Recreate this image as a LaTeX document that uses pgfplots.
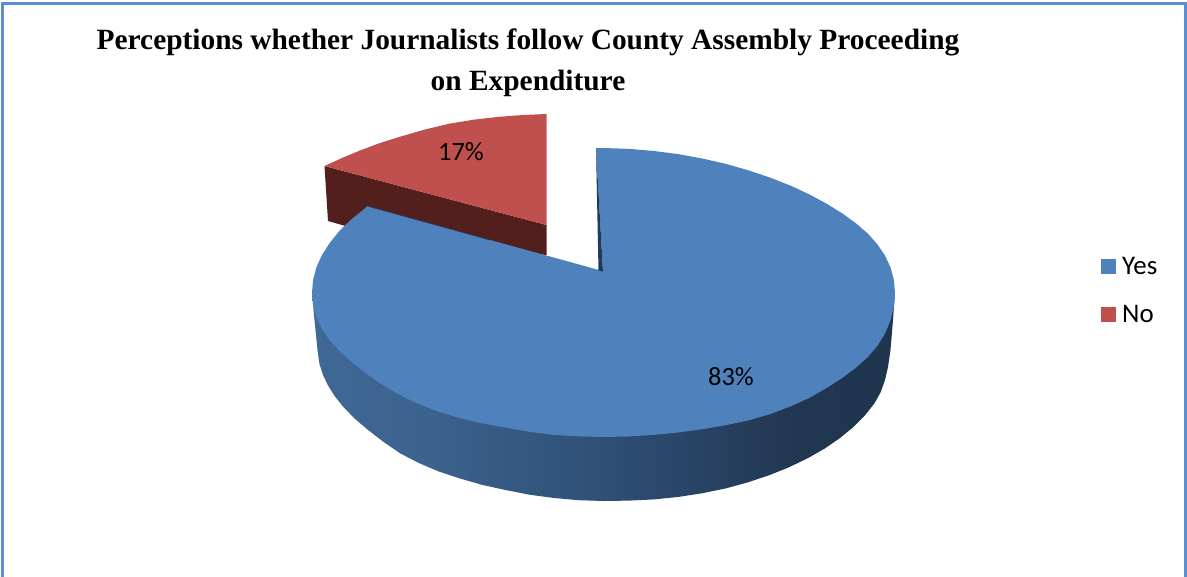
\documentclass[border=0pt]{standalone}
\usepackage{pgfplots}
\pgfplotsset{compat=1.18}
\usepackage{fontspec}
\setmainfont{Carlito}
\newfontfamily\titlefont{Liberation Serif}
\definecolor{pieblue}{HTML}{4F81BD}
\definecolor{piered}{HTML}{C0504D}
\definecolor{redwall}{HTML}{521F1C}
\definecolor{bluecut}{HTML}{1F3A5C}
\definecolor{frameblue}{HTML}{5B8FCF}
\definecolor{wallA}{HTML}{4874AA}
\definecolor{wallB}{HTML}{3D6490}
\definecolor{wallC}{HTML}{2F4F76}
\definecolor{wallD}{HTML}{21364F}
\definecolor{wallE}{HTML}{1C304A}
\pgfdeclarehorizontalshading{bluewall}{100bp}{
  color(0bp)=(wallA);
  color(33bp)=(wallB);
  color(50bp)=(wallC);
  color(67bp)=(wallD);
  color(100bp)=(wallE)}
\begin{document}
\begin{tikzpicture}
% page extent
\path (0,0) rectangle (1187bp,-577bp);
\begin{axis}[
  scale only axis, width=1187bp, height=577bp,
  xmin=0, xmax=1187, ymin=0, ymax=577, y dir=reverse,
  hide axis, clip=true, anchor=north west, at={(0,0)}]

% frame: left, top and right sides only
\addplot[frameblue, line width=3bp, forget plot] coordinates {
  (2.2,577) (2.2,3) (1185.6,3) (1185.6,577)};

% "No" slice, side wall
\addplot[redwall, fill=redwall, draw=none, forget plot] coordinates {
  (324.5,166) (546.5,225) (546.5,255) (400,240) (342,225) (328,221)} --cycle;
% "No" slice, top face
\addplot[piered, fill=piered, draw=none, forget plot] coordinates {
  (546.5,225) (546.5,114) (523,115) (500,116.7) (475,119.5) (450,123.5)
  (425,129.5) (400,136.7) (380,143) (360,150.5) (342,158) (324.5,166)} --cycle;

% "Yes" slice, outer wall
\addplot[draw=none, shade, shading=bluewall, forget plot] coordinates {
  (895,292.5) (893,320) (890.5,350) (888,367) (885,380) (880.5,392.5) (874.6,403.1)
  (865,415.3) (853.4,427) (839.9,438.1) (824.6,448.6) (807.6,458.3) (789.1,467.2)
  (769.2,475.2) (748,482.3) (725.7,488.4) (702.5,493.2) (678.5,496.9) (654,499.4)
  (629.1,500.6) (604,501) (578.9,500.2) (554,498) (529.5,494.7) (505.5,490)
  (482.3,484.9) (460,478.5) (438.8,471.5) (418.9,463) (400.4,453.5) (383.4,441.8)
  (368.1,430) (354.6,418.5) (343,406.5) (335,396.5) (328,385.5) (323,375)
  (319.5,364) (317.5,350) (316,335) (314,315) (312,292.5)} --cycle;

% "Yes" slice, top face
\addplot[pieblue, fill=pieblue, draw=none, forget plot] coordinates {
  (596,148) (603.5,148) (628.9,148.85) (654.1,151) (678.9,154.2) (703.2,158.7)
  (726.7,164.1) (749.3,170.6) (770.7,177.8) (790.9,185.8) (809.6,194.5) (826.8,203.8)
  (842.3,213.4) (855.9,223.25) (867.7,233.4) (877.4,244.3) (885.1,255.7) (890.6,267.6)
  (893.9,279.9) (895,292.5) (893.9,306.6) (890.6,320.1) (885.1,333.4) (877.4,345.9)
  (867.7,357.1) (855.9,367.75) (842.3,377.9) (826.8,387.9) (809.6,397.7) (790.9,406.2)
  (770.7,413.9) (749.3,420.1) (726.7,425) (703.2,429) (678.9,432.4) (654.1,434.8)
  (628.9,436.45) (603.5,437) (578.1,436.45) (552.9,434.8) (528.1,431.6) (503.8,427.3)
  (480.3,423) (457.7,417.6) (436.3,410.9) (416.1,402.9) (397.4,393.7) (380.2,383.4)
  (364.7,372.4) (351.1,361.55) (339.3,350.8) (329.6,340.1) (321.9,328.9) (316.4,317.1)
  (313.1,304.9) (312,292.5) (313.1,279.9) (316.4,267.4) (321.9,255.1) (329.6,243.1)
  (339.3,231) (351.1,219.5) (364.7,208.6) (367,206) (599,270) (603,271)} --cycle;

% cut face of the "Yes" slice beside the gap
\addplot[bluecut, fill=bluecut, draw=none, forget plot] coordinates {
  (596,148) (598.5,270.5) (603,271.5)} --cycle;
\addplot[bluecut, line width=0.6bp, forget plot] coordinates {(367,206) (490,240)};

% legend keys
\addplot[pieblue, fill=pieblue, draw=none, forget plot] coordinates {
  (1101,259) (1116,259) (1116,274) (1101,274)} --cycle;
\addplot[piered, fill=piered, draw=none, forget plot] coordinates {
  (1101,307) (1116,307) (1116,322) (1101,322)} --cycle;

% title
\node[anchor=base, font={\titlefont\bfseries\fontsize{29.5}{32}\selectfont}]
  at (axis cs:528,49) {Perceptions whether Journalists follow County Assembly Proceeding};
\node[anchor=base, font={\titlefont\bfseries\fontsize{29.5}{32}\selectfont}]
  at (axis cs:528,90) {on Expenditure};

% value labels
\node[anchor=base, font=\fontsize{26.5}{30}\selectfont] at (axis cs:731,385) {83\%};
\node[anchor=base, font=\fontsize{26.5}{30}\selectfont] at (axis cs:461,160) {17\%};

% legend labels
\node[anchor=base west, inner sep=0pt, font=\fontsize{27}{30}\selectfont] at (axis cs:1122,274) {Yes};
\node[anchor=base west, inner sep=0pt, font=\fontsize{27}{30}\selectfont] at (axis cs:1122,322) {No};
\end{axis}
\end{tikzpicture}
\end{document}
